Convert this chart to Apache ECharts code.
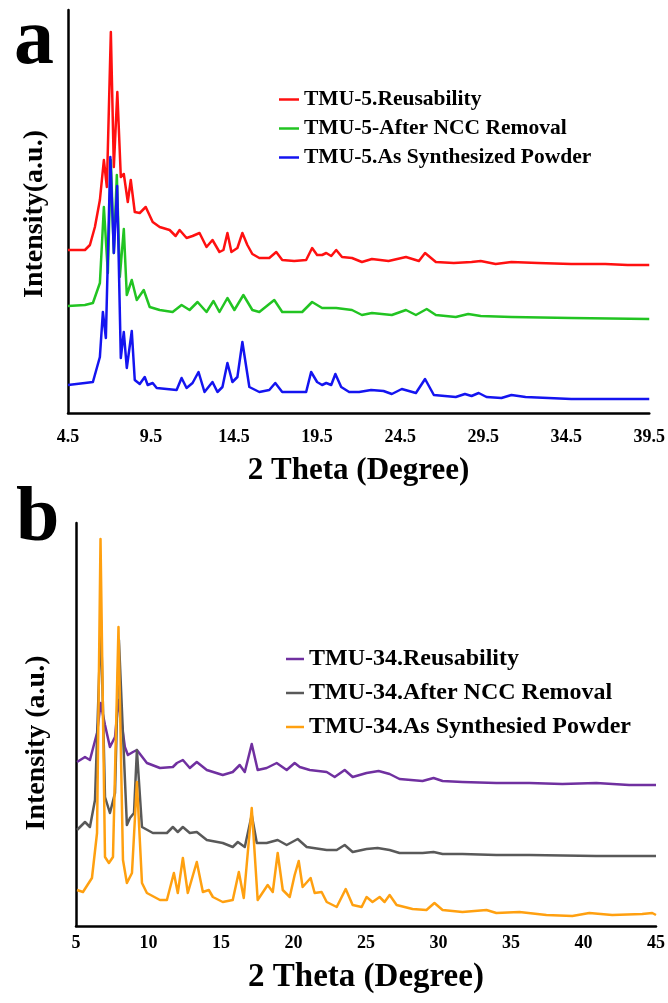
<!DOCTYPE html>
<html>
<head>
<meta charset="utf-8">
<script src="https://cdn.jsdelivr.net/npm/echarts@6/dist/echarts.min.js"></script>
<style>
html,body{margin:0;padding:0;background:#fff;}
#chart{width:668px;height:1003px;}
</style>
</head>
<body>
<div id="chart"></div>
<script>
// ---------- Panel a (TMU-5) ----------
var aTicks = [4.5, 9.5, 14.5, 19.5, 24.5, 29.5, 34.5, 39.5];
var aNames = ['TMU-5.Reusability', 'TMU-5-After NCC Removal', 'TMU-5.As Synthesized Powder'];
var aReusability = [[4.5,163],[5.22,163],[5.52,163],[5.82,168],[6.12,186],[6.42,213],[6.66,253],[6.84,226],[7.08,381],[7.26,246],[7.47,321],[7.68,236],[7.86,239],[8.1,211],[8.28,233],[8.52,201],[8.82,200],[9.18,206],[9.6,191],[10.02,186],[10.62,183],[10.98,177],[11.22,183],[11.64,175],[12.0,177],[12.42,180],[12.84,166],[13.2,173],[13.62,161],[13.86,163],[14.1,180],[14.34,161],[14.7,165],[15.0,180],[15.3,168],[15.6,159],[16.02,155],[16.62,155],[17.04,161],[17.4,153],[18.12,152],[18.84,153],[19.2,165],[19.5,158],[19.8,158],[20.05,160],[20.35,157],[20.65,163],[21.0,156],[21.6,155],[22.2,151],[22.8,154],[23.8,152],[24.85,156],[25.63,152],[26.0,160],[26.65,151],[27.73,150],[28.8,151],[29.35,152],[30.25,149],[31.2,151],[32.8,150],[34.8,149],[36.85,149],[38.2,148],[39.5,148]];
var aAfterNCC = [[4.5,107],[5.52,108],[6.0,110],[6.42,130],[6.66,206],[6.9,140],[7.08,253],[7.26,160],[7.44,238],[7.62,136],[7.86,184],[8.04,118],[8.34,133],[8.64,113],[9.06,123],[9.42,106],[10.02,103],[10.8,101],[11.34,108],[11.82,103],[12.3,111],[12.84,101],[13.26,112],[13.62,101],[14.1,115],[14.52,103],[15.06,118],[15.6,103],[16.02,101],[16.92,113],[17.4,101],[18.6,101],[19.2,111],[19.8,105],[20.65,105],[21.6,103],[22.2,98],[22.8,100],[24.0,98],[24.85,103],[25.45,98],[26.1,104],[26.65,98],[27.85,96],[28.6,99],[29.35,97],[31.2,96],[34.8,95],[39.5,94]];
var aAsSynth = [[4.5,28],[5.52,30],[6.0,31],[6.42,56],[6.6,101],[6.78,75],[7.05,256],[7.26,160],[7.46,227],[7.68,55],[7.86,81],[8.04,45],[8.34,82],[8.52,33],[8.82,29],[9.12,36],[9.3,28],[9.6,30],[9.84,25],[11.04,23],[11.34,35],[11.64,25],[12.0,30],[12.36,41],[12.72,21],[13.2,31],[13.5,21],[13.8,26],[14.1,50],[14.4,31],[14.7,36],[15.0,71],[15.42,26],[16.02,21],[16.62,23],[16.98,30],[17.4,21],[18.84,21],[19.14,41],[19.5,31],[19.8,28],[20.05,30],[20.35,28],[20.6,39],[20.95,26],[21.43,21],[22.03,21],[22.75,23],[23.5,22],[24.0,19],[24.6,24],[25.45,20],[26.0,34],[26.53,18],[27.85,16],[28.4,19],[28.8,17],[29.23,20],[29.7,16],[30.6,15],[31.2,18],[32.05,16],[34.8,14],[39.5,14]];

// ---------- Panel b (TMU-34) ----------
var bNames = ['TMU-34.Reusability', 'TMU-34.After NCC Removal', 'TMU-34.As Synthesied Powder'];
var bReusability = [[5.07,164],[5.62,169],[5.96,166],[6.45,193],[6.7,223],[7.0,201],[7.34,179],[7.69,189],[7.93,226],[8.37,179],[8.58,171],[8.93,174],[9.2,176],[9.89,163],[10.79,158],[11.68,159],[11.96,163],[12.37,166],[12.85,158],[13.33,164],[14.02,156],[15.12,151],[15.81,154],[16.29,161],[16.64,154],[17.12,182],[17.53,156],[18.15,158],[18.84,163],[19.53,156],[20.08,163],[20.43,159],[21.12,156],[22.29,154],[22.84,149],[23.53,156],[24.08,149],[25.04,153],[25.87,155],[26.63,152],[27.31,147],[28.9,145],[29.66,148],[30.28,145],[31.65,144],[33.99,143],[36.27,143],[38.54,142],[40.88,143],[43.15,141],[45.0,141]];
var bAfterNCC = [[5.07,96],[5.62,104],[5.96,99],[6.31,126],[6.72,306],[7.0,129],[7.34,113],[7.69,133],[7.96,286],[8.51,101],[8.72,108],[9.0,113],[9.2,176],[9.55,99],[10.3,93],[11.27,93],[11.68,99],[12.02,94],[12.37,99],[12.85,93],[13.33,94],[14.02,86],[15.12,83],[15.81,79],[16.16,84],[16.64,79],[17.12,111],[17.47,83],[18.15,83],[18.91,86],[19.53,81],[20.29,87],[20.91,79],[22.29,76],[22.98,76],[23.53,81],[24.08,74],[25.04,77],[25.8,78],[26.63,76],[27.31,73],[28.9,73],[29.66,74],[30.28,72],[31.65,72],[33.99,71],[36.27,71],[40.88,70],[45.0,70]];
var bAsSynth = [[5.07,36],[5.48,34],[6.1,48],[6.45,93],[6.69,387],[7.0,69],[7.27,63],[7.55,69],[7.93,299],[8.24,66],[8.51,43],[8.86,53],[9.2,144],[9.55,43],[9.89,33],[10.79,26],[11.27,26],[11.75,53],[12.02,33],[12.37,68],[12.71,33],[13.33,64],[13.75,34],[14.16,36],[14.44,29],[15.12,24],[15.81,26],[16.23,54],[16.57,28],[17.12,118],[17.53,26],[18.22,41],[18.57,34],[18.91,73],[19.26,36],[19.74,29],[20.08,51],[20.36,65],[20.63,39],[21.18,48],[21.46,33],[21.94,34],[22.29,24],[22.98,19],[23.6,37],[24.08,21],[24.7,19],[25.04,29],[25.45,24],[25.94,29],[26.28,24],[26.63,31],[27.11,21],[28.21,17],[29.17,16],[29.72,23],[30.28,16],[31.65,14],[33.31,16],[33.99,13],[35.58,14],[37.44,11],[39.23,10],[40.4,13],[41.98,11],[44.05,12],[44.74,13],[45.0,11]];

var FONT = '"Liberation Serif", "Times New Roman", serif';
var aColors = ['#ff1010', '#22c422', '#1414f0'];
var bColors = ['#7030a0', '#595959', '#ffa010'];

function lineSeries(name, data, color, idx) {
  return {
    name: name, type: 'line', data: data, xAxisIndex: idx, yAxisIndex: idx,
    showSymbol: false, symbol: 'none', smooth: false, animation: false,
    lineStyle: { color: color, width: 2.5, join: 'round' }, itemStyle: { color: color }
  };
}

var chart = echarts.init(document.getElementById('chart'), null, { renderer: 'canvas' });
chart.setOption({
  backgroundColor: '#ffffff',
  animation: false,
  grid: [
    { left: 68, right: 17, top: 10, height: 403 },
    { left: 76, right: 11, top: 523, height: 403 }
  ],
  xAxis: [
    {
      type: 'value', gridIndex: 0, min: 4.5, max: 39.5,
      axisLine: { lineStyle: { color: '#000', width: 2.5 } },
      axisTick: { show: false }, splitLine: { show: false },
      axisLabel: { customValues: aTicks, color: '#000', fontFamily: FONT, fontWeight: 'bold', fontSize: 18, margin: 15,
                   formatter: function (v) { return v.toFixed(1); } },
      name: '2 Theta (Degree)', nameLocation: 'middle', nameGap: 42,
      nameTextStyle: { color: '#000', fontFamily: FONT, fontWeight: 'bold', fontSize: 31 }
    },
    {
      type: 'value', gridIndex: 1, min: 5, max: 45, interval: 5,
      axisLine: { lineStyle: { color: '#000', width: 2.5 } },
      axisTick: { show: false }, splitLine: { show: false },
      axisLabel: { color: '#000', fontFamily: FONT, fontWeight: 'bold', fontSize: 18, margin: 8 },
      name: '2 Theta (Degree)', nameLocation: 'middle', nameGap: 35,
      nameTextStyle: { color: '#000', fontFamily: FONT, fontWeight: 'bold', fontSize: 33 }
    }
  ],
  yAxis: [
    { type: 'value', gridIndex: 0, min: 0, max: 403,
      axisLine: { show: true, lineStyle: { color: '#000', width: 2.5 } },
      axisTick: { show: false }, axisLabel: { show: false }, splitLine: { show: false } },
    { type: 'value', gridIndex: 1, min: 0, max: 403,
      axisLine: { show: true, lineStyle: { color: '#000', width: 2.5 } },
      axisTick: { show: false }, axisLabel: { show: false }, splitLine: { show: false } }
  ],
  legend: [
    {
      data: aNames, orient: 'vertical', left: 279, top: 85, itemGap: 0, padding: 0,
      icon: 'rect', itemWidth: 20, itemHeight: 2.5,
      textStyle: { color: '#000', fontFamily: FONT, fontWeight: 'bold', fontSize: 21.5, lineHeight: 29 }
    },
    {
      data: bNames, orient: 'vertical', left: 286, top: 642, itemGap: 0, padding: 0,
      icon: 'rect', itemWidth: 18, itemHeight: 2.5,
      textStyle: { color: '#000', fontFamily: FONT, fontWeight: 'bold', fontSize: 24, lineHeight: 34 }
    }
  ],
  graphic: [
    { type: 'text', left: 14, top: 2, style: { text: 'a', font: 'bold 80px ' + FONT, fill: '#000' } },
    { type: 'text', left: 16, top: 481, style: { text: 'b', font: 'bold 78px ' + FONT, fill: '#000' } },
    { type: 'text', x: 35, y: 214, rotation: Math.PI / 2,
      style: { text: 'Intensity(a.u.)', font: 'bold 28px ' + FONT, fill: '#000', align: 'center', verticalAlign: 'middle' } },
    { type: 'text', x: 37, y: 743, rotation: Math.PI / 2,
      style: { text: 'Intensity (a.u.)', font: 'bold 28px ' + FONT, fill: '#000', align: 'center', verticalAlign: 'middle' } }
  ],
  series: [
    lineSeries(aNames[0], aReusability, aColors[0], 0),
    lineSeries(aNames[1], aAfterNCC, aColors[1], 0),
    lineSeries(aNames[2], aAsSynth, aColors[2], 0),
    lineSeries(bNames[0], bReusability, bColors[0], 1),
    lineSeries(bNames[1], bAfterNCC, bColors[1], 1),
    lineSeries(bNames[2], bAsSynth, bColors[2], 1)
  ]
});
</script>
</body>
</html>
